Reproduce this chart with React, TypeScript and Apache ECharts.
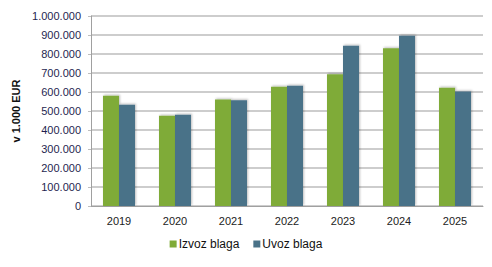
import React, { useEffect, useRef } from "react";
import * as echarts from "echarts";

const years = ["2019", "2020", "2021", "2022", "2023", "2024", "2025"];
const izvoz = [580000, 475000, 561000, 628000, 693000, 830000, 623000];
const uvoz = [533000, 480000, 556000, 633000, 844000, 896000, 602000];
const seriesNames = ["Izvoz blaga", "Uvoz blaga"];
const yAxisName = "v 1.000 EUR";

const fmt = (v: number) => String(v).replace(/\B(?=(\d{3})+(?!\d))/g, ".");

export default function App() {
  const ref = useRef<HTMLDivElement>(null);
  useEffect(() => {
    if (!ref.current) return;
    const chart = echarts.init(ref.current, undefined, { renderer: "svg" });
    const font = "Liberation Sans, Arial, sans-serif";
    chart.setOption({
      animation: false,
      textStyle: { fontFamily: font },
      grid: { left: 91, right: 9, top: 16, bottom: 61 },
      legend: {
        bottom: 12,
        left: "center",
        itemWidth: 7,
        itemHeight: 7,
        itemGap: 14,
        icon: "rect",
        textStyle: { fontSize: 12, color: "#111", fontFamily: font, padding: [0, 0, 0, -3] },
        data: seriesNames,
      },
      xAxis: {
        type: "category",
        data: years,
        axisLine: { lineStyle: { color: "#a0a0a0", width: 1 } },
        axisTick: { show: false },
        axisLabel: { fontSize: 11, color: "#222", margin: 9 },
      },
      yAxis: {
        type: "value",
        min: 0,
        max: 1000000,
        interval: 100000,
        name: yAxisName,
        nameLocation: "middle",
        nameGap: 68,
        nameRotate: 90,
        nameTextStyle: { fontSize: 11, fontWeight: "bold", color: "#111" },
        axisLine: { show: true, lineStyle: { color: "#a0a0a0" } },
        axisTick: { show: true, length: 3, lineStyle: { color: "#bdbdbd" } },
        splitLine: { lineStyle: { color: "#bdbdbd", width: 1.5 } },
        axisLabel: { fontSize: 11, color: "#1f1f50", margin: 10, formatter: (v: number) => fmt(v) },
      },
      series: [
        {
          name: seriesNames[0],
          type: "bar",
          data: izvoz,
          barWidth: 16,
          barGap: "0%",
          itemStyle: { color: "#7fab38", shadowColor: "rgba(0,0,0,0.25)", shadowBlur: 2, shadowOffsetX: 1, shadowOffsetY: -1 },
        },
        {
          name: seriesNames[1],
          type: "bar",
          data: uvoz,
          barWidth: 16,
          barGap: "0%",
          itemStyle: { color: "#4a7288", shadowColor: "rgba(0,0,0,0.25)", shadowBlur: 2, shadowOffsetX: 1, shadowOffsetY: -1 },
        },
      ],
    });
    return () => chart.dispose();
  }, []);
  return <div ref={ref} style={{ width: 492, height: 267, margin: -8 }} />;
}
